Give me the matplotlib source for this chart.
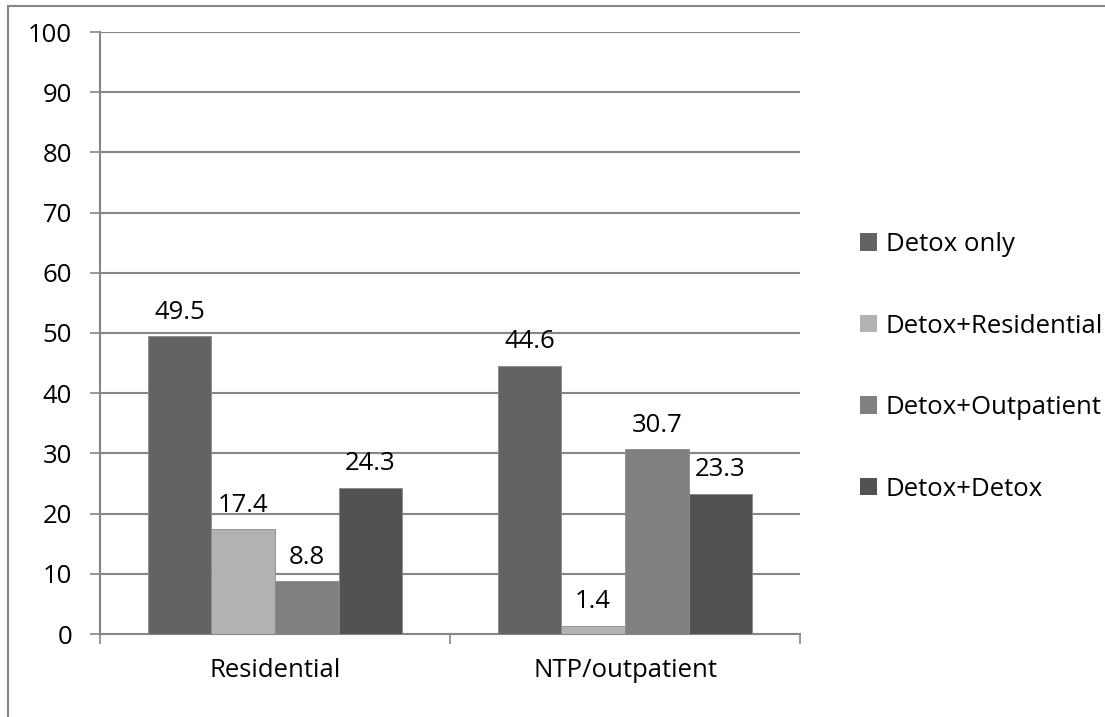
import matplotlib.pyplot as plt
from matplotlib.patches import Rectangle
import numpy as np

plt.rcParams['font.family'] = ['Open Sans', 'DejaVu Sans']

categories = ["Residential", "NTP/outpatient"]
series = ["Detox only", "Detox+Residential", "Detox+Outpatient", "Detox+Detox"]
values = {
    "Detox only": [49.5, 44.6],
    "Detox+Residential": [17.4, 1.4],
    "Detox+Outpatient": [8.8, 30.7],
    "Detox+Detox": [24.3, 23.3],
}
colors = ["#636363", "#b2b2b2", "#808080", "#525252"]
yticks = list(range(0, 101, 10))

FS = 18.5
W, H = 1105, 717
fig = plt.figure(figsize=(W / 100, H / 100), dpi=100)

# outer chart frame
fig.patches.append(Rectangle((8 / W, -0.05), 1.2, (H - 6) / H + 0.05,
                             transform=fig.transFigure, fill=False,
                             edgecolor="#868686", linewidth=1.5))

ax = fig.add_axes([100 / W, 1 - 634 / H, 700 / W, 602 / H])

n = len(series)
bw = 1 / 5.5
x = np.arange(len(categories))
for i, (name, col) in enumerate(zip(series, colors)):
    offs = (i - (n - 1) / 2) * bw
    ax.bar(x + offs, values[name], width=bw, color=col,
           edgecolor="#8a8a8a", linewidth=0.6, label=name, zorder=3)
    for xi, v in zip(x + offs, values[name]):
        ax.text(xi, v + 1.9, f"{v}", ha="center", va="bottom",
                fontsize=FS, color="black", zorder=4)

ax.set_xlim(-0.5, len(categories) - 0.5)
ax.set_ylim(0, 100)
ax.set_yticks(yticks)
ax.set_yticklabels([str(t) for t in yticks], fontsize=FS)
ax.set_xticks(x)
ax.set_xticklabels(categories, fontsize=FS)
ax.set_xticks([-0.5, 0.5, 1.5], minor=True)
ax.tick_params(axis="x", which="major", length=0, pad=17)
ax.tick_params(axis="x", which="minor", length=7, width=1.2, color="#868686")
ax.tick_params(axis="y", length=7, width=1.2, color="#868686", pad=13)
ax.grid(axis="y", color="#868686", linewidth=1.5, zorder=0)
ax.set_axisbelow(True)
for s in ["top", "right"]:
    ax.spines[s].set_visible(False)
for s in ["left", "bottom"]:
    ax.spines[s].set_color("#868686")
    ax.spines[s].set_linewidth(1.5)

leg = fig.legend(loc="upper left", bbox_to_anchor=(860 / W, 1 - 232 / H),
                 frameon=False, fontsize=FS, handlelength=0.68,
                 handleheight=0.68, handletextpad=0.32, labelspacing=2.2,
                 borderaxespad=0, borderpad=0)
for h in leg.legend_handles:
    h.set_edgecolor("none")

fig.savefig("out.png", dpi=100)
